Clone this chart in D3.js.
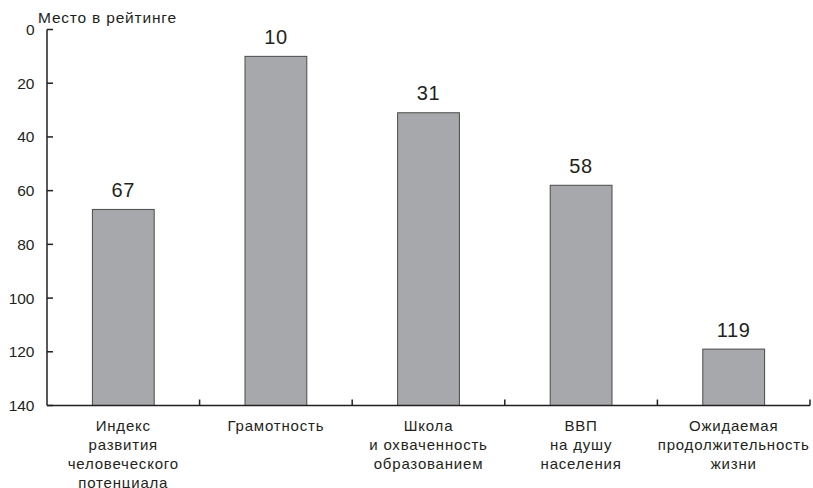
<!DOCTYPE html>
<html><head><meta charset="utf-8">
<script src="https://cdn.jsdelivr.net/npm/d3@7"></script>
<style>body{margin:0;background:#fff}svg{display:block;font-family:"Liberation Sans",Arial,Helvetica,sans-serif}</style>
</head><body><svg id="c" width="813" height="488"></svg>
<script>
const categories = [
  ["Индекс","развития","человеческого","потенциала"],
  ["Грамотность"],
  ["Школа","и охваченность","образованием"],
  ["ВВП","на душу","населения"],
  ["Ожидаемая","продолжительность","жизни"]
];
const values = [67, 10, 31, 58, 119];
const yTicks = [0, 20, 40, 60, 80, 100, 120, 140];
const yTitle = "Место в рейтинге";

const svg = d3.select("#c");
const x0 = 47, x1 = 810, yTop = 29.5, yBot = 405.5;
const x = d3.scaleBand().domain(d3.range(values.length)).range([x0, x1]).paddingInner(0).paddingOuter(0);
const y = d3.scaleLinear().domain([0, 140]).range([yTop, yBot]);
const bw = x.bandwidth() * 0.405;
const ink = "#231f20";

// bars
svg.selectAll("rect.bar").data(values).join("rect")
  .attr("x", (d,i) => x(i) + x.bandwidth()/2 - bw/2)
  .attr("y", d => y(d))
  .attr("width", bw)
  .attr("height", d => y(140) - y(d))
  .attr("fill", "#a7a8ab")
  .attr("stroke", "#4a4a4a")
  .attr("stroke-width", 1);

// value labels
svg.selectAll("text.val").data(values).join("text")
  .attr("x", (d,i) => x(i) + x.bandwidth()/2)
  .attr("y", d => y(d) - 12.5)
  .attr("text-anchor", "middle")
  .attr("font-size", 20)
  .attr("letter-spacing", 0.6)
  .attr("fill", ink)
  .text(d => d);

// y axis
const ya = svg.append("g");
ya.append("line").attr("x1", x0).attr("x2", x0).attr("y1", yTop).attr("y2", yBot)
  .attr("stroke", ink).attr("stroke-width", 1.5);
ya.selectAll("line.t").data(yTicks).join("line")
  .attr("x1", x0).attr("x2", x0 + 6).attr("y1", d => y(d)).attr("y2", d => y(d))
  .attr("stroke", ink).attr("stroke-width", 1.5);
ya.selectAll("text").data(yTicks).join("text")
  .attr("x", 34.5).attr("y", d => y(d) + 5.5)
  .attr("text-anchor", "end").attr("font-size", 15.5).attr("fill", ink)
  .text(d => d);

svg.append("text").attr("x", 38).attr("y", 23.3).attr("font-size", 15.5)
  .attr("letter-spacing", 0.8)
  .attr("fill", ink).text(yTitle);

// x axis
const xa = svg.append("g");
xa.append("line").attr("x1", x0).attr("x2", x1).attr("y1", yBot).attr("y2", yBot)
  .attr("stroke", ink).attr("stroke-width", 1.5);
const bounds = d3.range(values.length).map(i => x(i) + x.bandwidth());
xa.selectAll("line.t").data(bounds).join("line")
  .attr("x1", d => d).attr("x2", d => d).attr("y1", yBot).attr("y2", yBot - 6)
  .attr("stroke", ink).attr("stroke-width", 1.5);
const lab = xa.selectAll("text").data(categories).join("text")
  .attr("text-anchor", "middle").attr("font-size", 15)
  .attr("letter-spacing", 0.8).attr("fill", ink);
lab.each(function(lines, i){
  d3.select(this).selectAll("tspan").data(lines).join("tspan")
    .attr("x", x(i) + x.bandwidth()/2)
    .attr("y", (d,j) => 430.5 + j * 19.3)
    .text(d => d);
});
</script></body></html>
